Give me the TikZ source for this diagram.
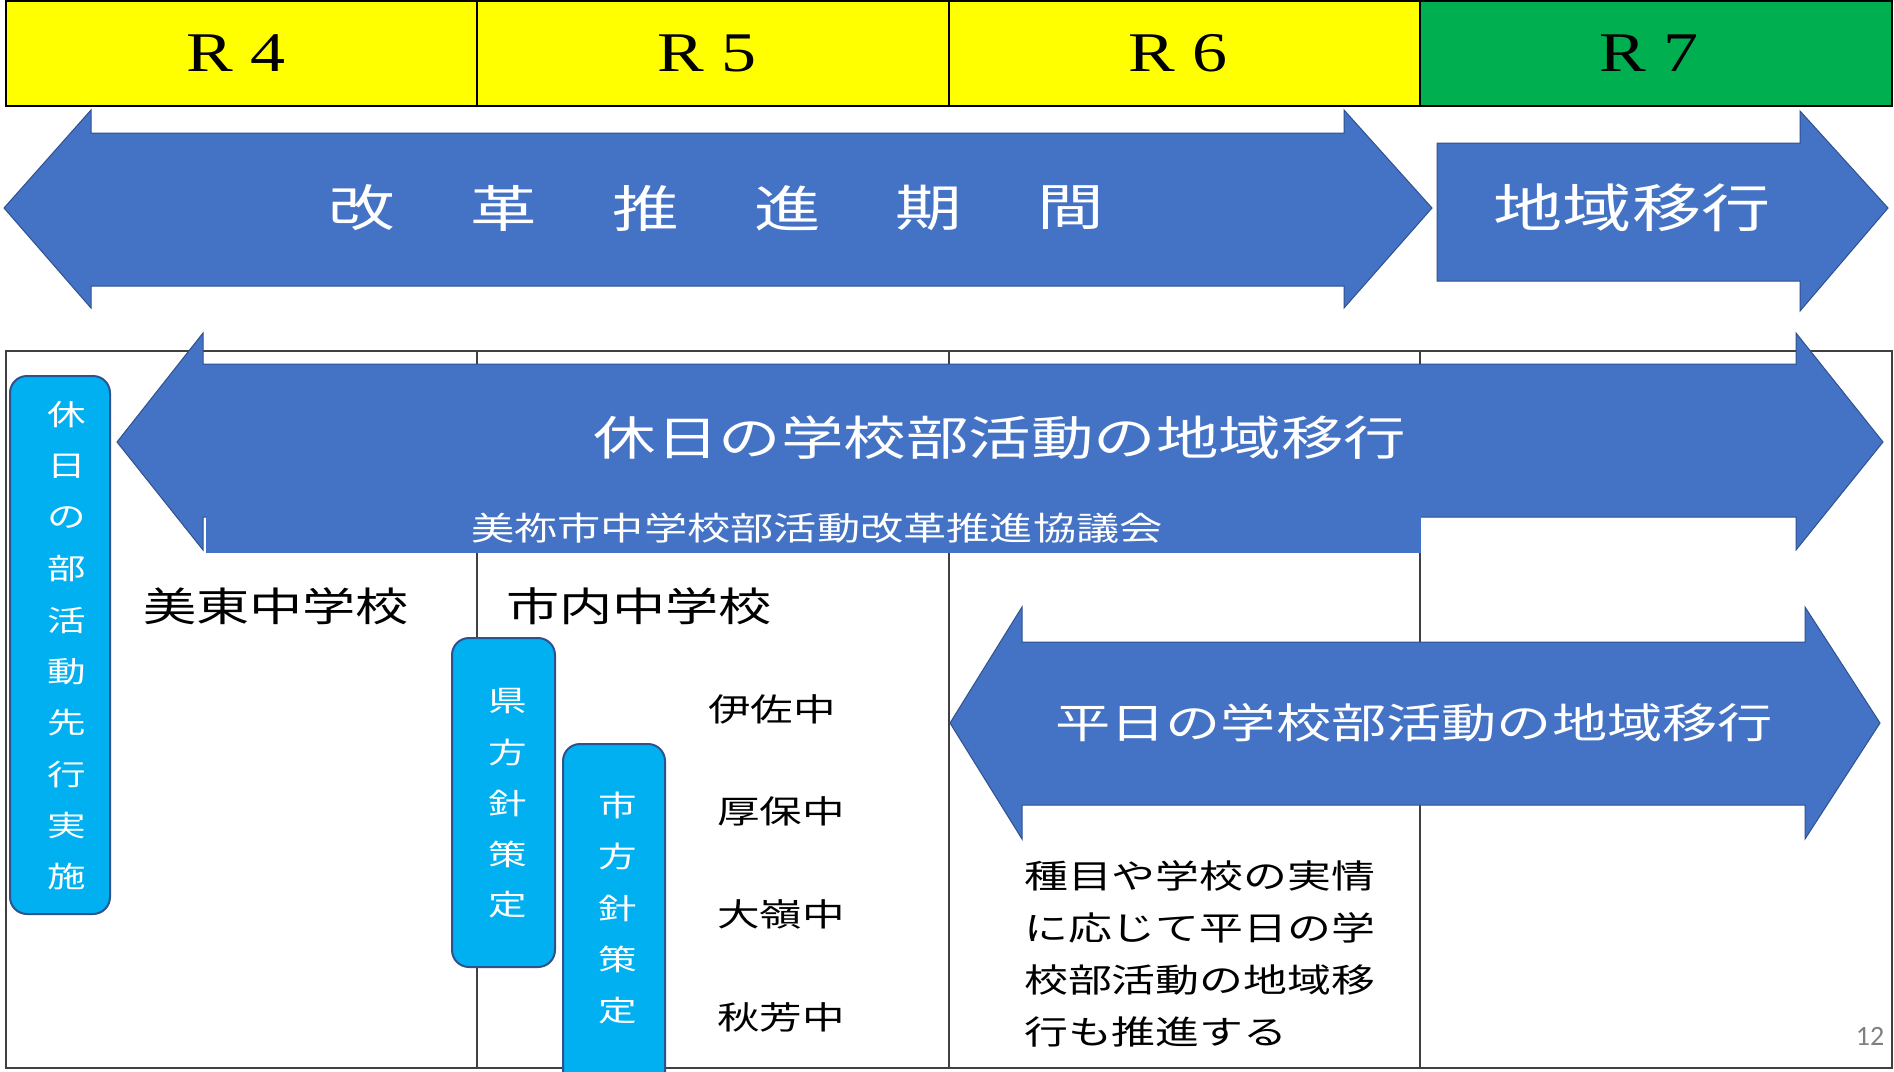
\documentclass[tikz,border=0pt]{standalone}
\usepackage{fontspec}
\usepackage{graphicx}
\setmainfont{Liberation Serif}
\newfontfamily\jp{Noto Sans CJK JP}
\newfontfamily\pgnum{Carlito}
\newcommand\wide[1]{\scalebox{1.33}[1]{#1}}
\definecolor{hyellow}{HTML}{FFFF00}
\definecolor{hgreen}{HTML}{00B050}
\definecolor{ablue}{HTML}{4472C4}
\definecolor{aedge}{HTML}{2F528F}
\definecolor{bcyan}{HTML}{00B0F0}
\begin{document}
\begin{tikzpicture}[x=1pt,y=-1pt,
  arrowshape/.style={fill=ablue, draw=aedge, line width=1pt, line join=miter},
  vbox/.style={fill=bcyan, draw=aedge, line width=2pt, rounded corners=17pt},
  wtext/.style={text=white, inner sep=0pt},
  btext/.style={text=black, inner sep=0pt},
  hcell/.style={draw=black, line width=1.5pt},
  tline/.style={draw=black!75, line width=1.2pt}]
\useasboundingbox (0,0) rectangle (1894,1071);
\clip (0,0) rectangle (1894,1071);
\fill[white] (0,0) rectangle (1894,1071);
% header
\fill[hyellow] (6,1) rectangle (1420,106);
\fill[hgreen] (1420,1) rectangle (1892,106);
\draw[hcell] (6,1) rectangle (1892,106);
\draw[hcell] (477,1) -- (477,106) (949,1) -- (949,106) (1420,1) -- (1420,106);
\node[btext, font=\fontsize{56}{56}\selectfont] (r4) at (236,53) {\scalebox{1.25}[1]{R\hspace{14pt}4}};
\node[btext, font=\fontsize{56}{56}\selectfont] (r5) at (707,53) {\scalebox{1.25}[1]{R\hspace{14pt}5}};
\node[btext, font=\fontsize{56}{56}\selectfont] (r6) at (1178,53) {\scalebox{1.25}[1]{R\hspace{14pt}6}};
\node[btext, font=\fontsize{56}{56}\selectfont] (r7) at (1649,53) {\scalebox{1.25}[1]{R\hspace{14pt}7}};
% table
\draw[tline] (6,351) rectangle (1892,1068);
\draw[tline] (477,351) -- (477,1068) (949,351) -- (949,1068) (1420,351) -- (1420,1068);
% reform period arrow
\draw[arrowshape] (4,208) -- (91,110) -- (91,133) -- (1344,133) -- (1344,110) -- (1432,208) -- (1344,308) -- (1344,286) -- (91,286) -- (91,308) -- cycle;
\foreach \c [count=\i from 0] in {改,革,推,進,期,間}
  \node[wtext, font=\jp\fontsize{50}{50}\selectfont] (kk\i) at ({362+141.8*\i},208) {\wide{\c}};
% R7 arrow
\draw[arrowshape] (1437,143) -- (1800,143) -- (1800,111) -- (1888,208) -- (1800,311) -- (1800,281) -- (1437,281) -- cycle;
\node[wtext, font=\jp\fontsize{52}{52}\selectfont] (chiiki) at (1632,208) {\wide{地域移行}};
% holiday arrow
\draw[arrowshape] (117,442) -- (203,333) -- (203,364) -- (1796,364) -- (1796,333) -- (1883,442) -- (1796,550) -- (1796,517) -- (203,517) -- (203,550) -- cycle;
\fill[ablue] (206,510) rectangle (1421,553);
\node[wtext, font=\jp\fontsize{47}{47}\selectfont] (kyujitsu) at (1000,438) {\wide{休日の学校部活動の地域移行}};
\node[wtext, font=\jp\fontsize{32.5}{32.5}\selectfont] (kyogi) at (817,528) {\wide{美祢市中学校部活動改革推進協議会}};
% weekday arrow
\draw[arrowshape] (950,723) -- (1022,607) -- (1022,642) -- (1805,642) -- (1805,607) -- (1880,723) -- (1805,839) -- (1805,805) -- (1022,805) -- (1022,839) -- cycle;
\node[wtext, font=\jp\fontsize{41.5}{41.5}\selectfont] (heijitsu) at (1414,723) {\wide{平日の学校部活動の地域移行}};
% left box
\draw[vbox] (10,376) rectangle (110,914);
\foreach \c [count=\i from 0] in {休,日,の,部,活,動,先,行,実,施}
  \node[wtext, font=\jp\fontsize{29}{29}\selectfont] (L\i) at (67,{415+51.3*\i}) {\wide{\c}};
% prefecture box
\draw[vbox] (452,638) rectangle (555,967);
\foreach \c [count=\i from 0] in {県,方,針,策,定}
  \node[wtext, font=\jp\fontsize{29}{29}\selectfont] (K\i) at (508,{701+51*\i}) {\wide{\c}};
% city box
\draw[vbox] (563,744) rectangle (665,1100);
\foreach \c [count=\i from 0] in {市,方,針,策,定}
  \node[wtext, font=\jp\fontsize{29}{29}\selectfont] (S\i) at (618,{805+51.5*\i}) {\wide{\c}};
% schools
\node[btext, font=\jp\fontsize{40}{40}\selectfont] (mito) at (276,606) {\wide{美東中学校}};
\node[btext, font=\jp\fontsize{40}{40}\selectfont] (shinai) at (639,606) {\wide{市内中学校}};
\node[btext, font=\jp\fontsize{32}{32}\selectfont] (isa) at (772,709) {\wide{伊佐中}};
\node[btext, font=\jp\fontsize{32}{32}\selectfont] (asa) at (781,811) {\wide{厚保中}};
\node[btext, font=\jp\fontsize{32}{32}\selectfont] (omine) at (781,914) {\wide{大嶺中}};
\node[btext, font=\jp\fontsize{32}{32}\selectfont] (shuho) at (781,1017) {\wide{秋芳中}};
% note
\node[btext, anchor=west, font=\jp\fontsize{33}{33}\selectfont] (p1) at (1024,876) {\wide{種目や学校の実情}};
\node[btext, anchor=west, font=\jp\fontsize{33}{33}\selectfont] (p2) at (1024,928) {\wide{に応じて平日の学}};
\node[btext, anchor=west, font=\jp\fontsize{33}{33}\selectfont] (p3) at (1024,980) {\wide{校部活動の地域移}};
\node[btext, anchor=west, font=\jp\fontsize{33}{33}\selectfont] (p4) at (1024,1032) {\wide{行も推進する}};
% page number
\node[text=black!50, inner sep=0pt, font=\pgnum\fontsize{28}{28}\selectfont] (pg) at (1870,1036) {12};
\end{tikzpicture}
\end{document}
